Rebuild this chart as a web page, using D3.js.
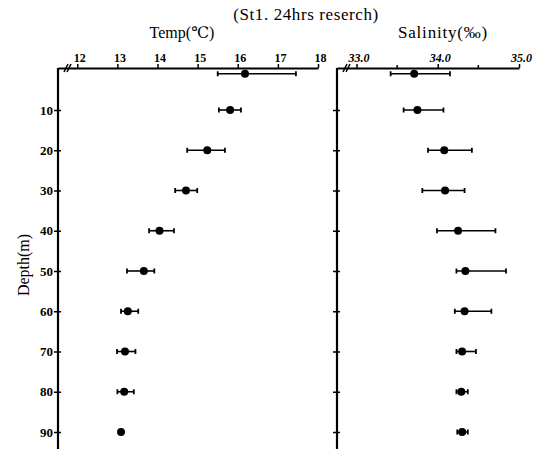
<!DOCTYPE html>
<html>
<head>
<meta charset="utf-8">
<script src="https://cdn.jsdelivr.net/npm/d3@7"></script>
<style>
  body { margin: 0; background: #fff; }
  svg { display: block; }
</style>
</head>
<body>
<svg id="chart" width="538" height="449"></svg>
<script>
// depths of the sampled layers (m)
const depths = [1, 10, 20, 30, 40, 50, 60, 70, 80, 90];
// temperature: mean, min, max
const tempMean = [16.18, 15.81, 15.24, 14.71, 14.05, 13.66, 13.26, 13.19, 13.17, 13.09];
const tempMin  = [15.50, 15.53, 14.74, 14.44, 13.79, 13.24, 13.09, 12.99, 13.00, 13.09];
const tempMax  = [17.45, 16.08, 15.68, 14.99, 14.41, 13.92, 13.52, 13.45, 13.41, 13.09];
// salinity: mean, min, max
const salMean = [33.71, 33.75, 34.08, 34.09, 34.25, 34.34, 34.33, 34.30, 34.29, 34.30];
const salMin  = [33.42, 33.58, 33.88, 33.81, 33.99, 34.23, 34.21, 34.23, 34.23, 34.24];
const salMax  = [34.15, 34.07, 34.42, 34.33, 34.71, 34.84, 34.66, 34.47, 34.37, 34.37];

const tempTicks = [12, 13, 14, 15, 16, 17, 18];
const salTicks = [33.0, 34.0, 35.0];
const salMinor = [33.5, 34.5];
const depthTicks = [10, 20, 30, 40, 50, 60, 70, 80, 90];

const svg = d3.select("#chart");
const serif = "'Liberation Serif', 'DejaVu Serif', serif";
const axisTop = 68;

const y = d3.scaleLinear().domain([0, 100]).range([69.75, 472.25]);
const xT = d3.scaleLinear().domain([11.52, 18]).range([58, 318]);
const xS = d3.scaleLinear().domain([32.76, 35.0]).range([337, 519]);

// titles
svg.append("text").attr("x", 306).attr("y", 20).attr("text-anchor", "middle")
  .style("font", `17px ${serif}`).style("letter-spacing", "0.6px")
  .text("(St1. 24hrs reserch)");
svg.append("text").attr("x", 182).attr("y", 38).attr("text-anchor", "middle")
  .style("font", `16px ${serif}`).text("Temp(℃)");
svg.append("text").attr("x", 443).attr("y", 38).attr("text-anchor", "middle")
  .style("font", `17px ${serif}`).style("letter-spacing", "0.8px")
  .text("Salinity(‰)");
svg.append("text")
  .attr("transform", "translate(29,265) rotate(-90)")
  .attr("text-anchor", "middle")
  .style("font", `16px ${serif}`).text("Depth(m)");

function panel(x, ticks, fmt, minor, labelDepth, italic) {
  const g = svg.append("g");
  const x0 = x.range()[0];

  // top axis
  const top = g.append("g").attr("transform", `translate(0,${axisTop})`)
    .call(d3.axisTop(x).tickValues(ticks).tickSize(4).tickSizeOuter(0).tickFormat(fmt));
  top.select(".domain").attr("stroke-width", 2);
  top.selectAll(".tick line").attr("stroke-width", 1.5);
  top.selectAll(".tick text")
    .attr("dx", 2).attr("y", -6)
    .style("font", `${italic ? "italic " : ""}bold 12px ${serif}`);
  if (minor) {
    g.selectAll(".minor").data(minor).join("line")
      .attr("x1", d => x(d)).attr("x2", d => x(d))
      .attr("y1", axisTop - 3).attr("y2", axisTop)
      .attr("stroke", "#000").attr("stroke-width", 1.5);
  }

  // left axis
  const left = g.append("g").attr("transform", `translate(${x0},0)`)
    .call(d3.axisLeft(y).tickValues(depthTicks).tickSize(4).tickSizeOuter(0)
      .tickFormat(labelDepth ? d3.format("d") : ""));
  left.select(".domain").attr("d", `M0,${axisTop}V449`).attr("stroke-width", 2.2);
  left.selectAll(".tick line").attr("x1", 3).attr("x2", -4).attr("stroke-width", 1.5);
  left.selectAll(".tick text").attr("x", -5)
    .style("font", `bold 13px ${serif}`);

  // axis break mark
  const bx = x0 + 8;
  [0, 3].forEach(o => {
    g.append("line")
      .attr("x1", bx + o - 2).attr("y1", axisTop + 4)
      .attr("x2", bx + o + 2).attr("y2", axisTop - 4)
      .attr("stroke", "#000").attr("stroke-width", 1.6);
  });
  return g;
}

function profile(g, x, mean, lo, hi) {
  const rows = depths.map((d, i) => ({ d, m: mean[i], lo: lo[i], hi: hi[i], i }));
  const bars = rows.filter(r => r.hi - r.lo > 0.01);
  g.selectAll(".bar").data(bars).join("line")
    .attr("x1", r => x(r.lo)).attr("x2", r => x(r.hi))
    .attr("y1", r => y(r.d)).attr("y2", r => y(r.d))
    .attr("stroke", "#000").attr("stroke-width", 1.6);
  g.selectAll(".capl").data(bars).join("line")
    .attr("x1", r => x(r.lo)).attr("x2", r => x(r.lo))
    .attr("y1", r => y(r.d) - 2.5).attr("y2", r => y(r.d) + 2.5)
    .attr("stroke", "#000").attr("stroke-width", 1.8);
  g.selectAll(".capr").data(bars).join("line")
    .attr("x1", r => x(r.hi)).attr("x2", r => x(r.hi))
    .attr("y1", r => y(r.d) - 2.5).attr("y2", r => y(r.d) + 2.5)
    .attr("stroke", "#000").attr("stroke-width", 1.8);
  g.selectAll(".dot").data(rows).join("circle")
    .attr("cx", r => x(r.m)).attr("cy", r => y(r.d))
    .attr("r", 4).attr("fill", "#000");
}

const gT = panel(xT, tempTicks, d3.format("d"), null, true, false);
const gS = panel(xS, salTicks, d3.format(".1f"), salMinor, false, true);

profile(gT, xT, tempMean, tempMin, tempMax);
profile(gS, xS, salMean, salMin, salMax);

// surface temperature shown as a small open point
gT.selectAll(".dot").filter(r => r.i === 0)
  .attr("r", 2.6).attr("fill", "#fff").attr("stroke", "#000").attr("stroke-width", 1.5);
</script>
</body>
</html>
